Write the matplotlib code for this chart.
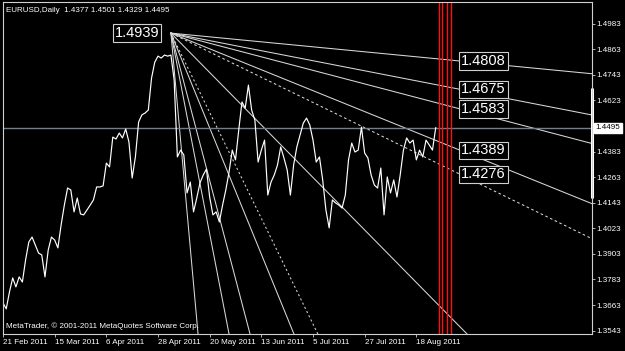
import numpy as np
import matplotlib
matplotlib.use('Agg')
import matplotlib.pyplot as plt

# EURUSD daily closes, 21 Feb 2011 .. 26 Aug 2011 (weekday bars)
closes = [
    1.3673, 1.3645, 1.3724, 1.3790, 1.3748, 1.3795, 1.3771, 1.3875, 1.3959, 1.3982,
    1.3945, 1.3907, 1.3898, 1.3795, 1.3921, 1.3982, 1.3968, 1.3931, 1.4039, 1.4132,
    1.4212, 1.4203, 1.4100, 1.4165, 1.4090, 1.4086, 1.4109, 1.4132, 1.4156, 1.4217,
    1.4217, 1.4222, 1.4329, 1.4311, 1.4451, 1.4442, 1.4470, 1.4447, 1.4489, 1.4428,
    1.4259, 1.4358, 1.4522, 1.4555, 1.4564, 1.4578, 1.4728, 1.4803, 1.4831, 1.4822,
    1.4836, 1.4831, 1.4836, 1.4719, 1.4358, 1.4390, 1.4367, 1.4189, 1.4240, 1.4100,
    1.4165, 1.4236, 1.4273, 1.4301, 1.4170, 1.4086, 1.4100, 1.4053, 1.4132, 1.4203,
    1.4287, 1.4390, 1.4344, 1.4484, 1.4616, 1.4587, 1.4695, 1.4578, 1.4531, 1.4334,
    1.4390, 1.4437, 1.4179, 1.4240, 1.4273, 1.4320, 1.4405, 1.4353, 1.4297, 1.4179,
    1.4320, 1.4405, 1.4461, 1.4517, 1.4540, 1.4508, 1.4437, 1.4334, 1.4358, 1.4250,
    1.4109, 1.4025, 1.4156, 1.4142, 1.4132, 1.4118, 1.4179, 1.4344, 1.4423, 1.4381,
    1.4390, 1.4498, 1.4376, 1.4353, 1.4273, 1.4226, 1.4212, 1.4306, 1.4086, 1.4264,
    1.4189, 1.4250, 1.4170, 1.4273, 1.4390, 1.4447, 1.4423, 1.4437, 1.4344, 1.4390,
    1.4358, 1.4437, 1.4414, 1.4390, 1.4495,
]
date_labels = ['21 Feb 2011', '15 Mar 2011', '6 Apr 2011', '28 Apr 2011', '20 May 2011',
               '13 Jun 2011', '5 Jul 2011', '27 Jul 2011', '18 Aug 2011']
date_pos = [0, 16, 32, 48, 64, 80, 96, 112, 128]

# fan: origin at the 4 May high
fan_origin = (52, 1.4939)
fan_label_bar = 141.6
fan_levels = [1.4808, 1.4675, 1.4583, 1.4389, 1.4276]
fan_level_dashed = [False, False, False, False, True]
# steeper fan lines, given by the bar where they leave the bottom of the chart
steep_bars = [143.7, 97.5, 90.1, 76.5, 70.0, 60.4]
steep_dashed = [False, True, False, False, False, False]
red_bars = [135.0, 135.9, 137.5, 138.7]
price_ticks = [1.3543, 1.3663, 1.3783, 1.3903, 1.4023, 1.4143, 1.4263,
               1.4383, 1.4623, 1.4743, 1.4863, 1.4983]
last_price = 1.4495
range_bar = (1.4165, 1.4681)

ymin, ymax = 1.3527, 1.5085
xmin, xmax = 0.0, 182.4

plt.rcParams['font.family'] = ['Liberation Sans', 'DejaVu Sans']
fig = plt.figure(figsize=(6.25, 3.51), dpi=100, facecolor='black')
ax = fig.add_axes([3/625, 17/351, 589/625, 332/351])
ax.set_facecolor('black')
ax.set_xlim(xmin, xmax)
ax.set_ylim(ymin, ymax)
for s in ax.spines.values():
    s.set_color('#d0d0d0')
    s.set_linewidth(0.8)

fan_col = '#d8d8d8'
x0, y0 = fan_origin
far = 400.0
for lvl, dashed in zip(fan_levels, fan_level_dashed):
    slope = (lvl - y0) / (fan_label_bar - x0)
    ax.plot([x0, far], [y0, y0 + slope * (far - x0)], color=fan_col, lw=0.75,
            ls=(0, (2.5, 2.5)) if dashed else '-')
for xb, dashed in zip(steep_bars, steep_dashed):
    slope = (ymin - y0) / (xb - x0)
    ax.plot([x0, far], [y0, y0 + slope * (far - x0)], color=fan_col, lw=0.75,
            ls=(0, (2, 2.5)) if dashed else '-')

ax.axhline(last_price, color='#6f7f8f', lw=1.0)
for xr in red_bars:
    ax.axvline(xr, color='#ff1010', lw=1.0)

ax.plot(np.arange(len(closes)), closes, color='white', lw=0.85)

box = dict(boxstyle='square,pad=0.12', fc='black', ec='#d0d0d0', lw=0.8)
ax.text(x0 - 3.6, y0, '1.4939', color='white', fontsize=10.5, ha='right', va='center',
        bbox=box)
for lvl in fan_levels:
    ax.text(fan_label_bar + 0.3, lvl, f'{lvl:.4f}', color='white', fontsize=10.5,
            ha='left', va='center', bbox=box)

# axes ticks / labels
ax.yaxis.tick_right()
ax.set_yticks(price_ticks)
ax.set_yticklabels([f'{t:.4f}' for t in price_ticks])
ax.tick_params(axis='y', colors='#d0d0d0', labelcolor='white', labelsize=5.8,
               length=2, width=0.6, pad=1.5)
ax.set_xticks(date_pos)
ax.set_xticklabels(date_labels, ha='left')
ax.tick_params(axis='x', colors='#d0d0d0', labelcolor='white', labelsize=5.8,
               length=2, width=0.6, pad=1.5)
ax.text(1.006, last_price, f'{last_price:.4f}', transform=ax.get_yaxis_transform(),
        color='black', fontsize=5.8, ha='left', va='center',
        bbox=dict(boxstyle='square,pad=0.2', fc='white', ec='white'))
ax.plot([xmax, xmax], list(range_bar), color='white', lw=2.2, clip_on=False,
        solid_capstyle='butt')

ax.text(0.005, 0.985, 'EURUSD,Daily  1.4377 1.4501 1.4329 1.4495', transform=ax.transAxes,
        color='white', fontsize=5.8, ha='left', va='top')
ax.text(0.005, 0.012, 'MetaTrader, \u00a9 2001-2011 MetaQuotes Software Corp.',
        transform=ax.transAxes, color='white', fontsize=5.8, ha='left', va='bottom')

fig.savefig('out.png', dpi=100, facecolor='black')
